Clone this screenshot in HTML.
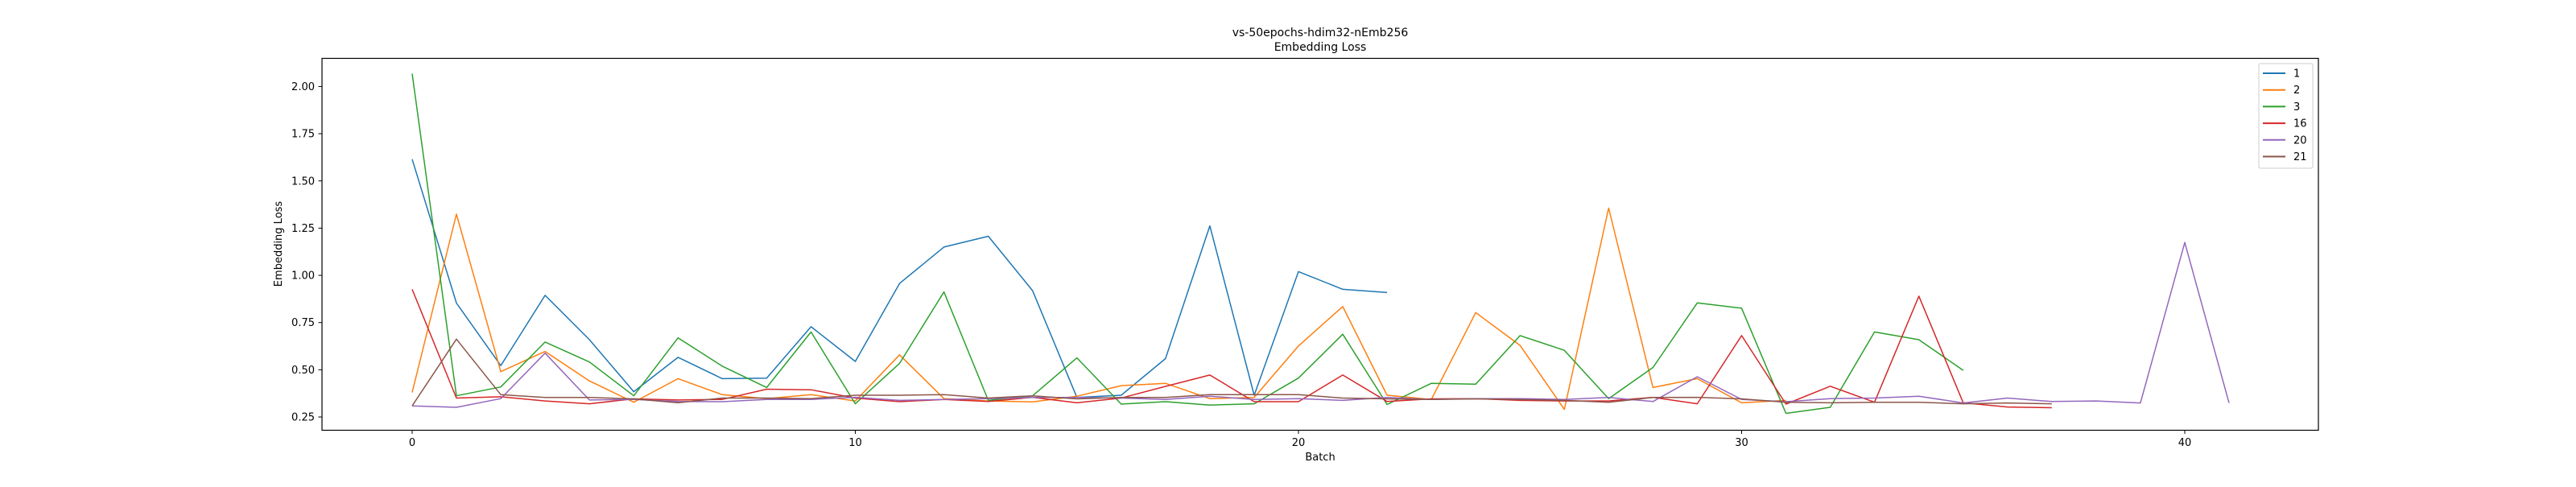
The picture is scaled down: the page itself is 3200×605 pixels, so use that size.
<!DOCTYPE html>
<html><head><meta charset="utf-8"><style>
body{margin:0;background:#fff}
svg text{font-family:"DejaVu Sans","Liberation Sans",sans-serif;fill:#000}
</style></head><body>
<svg id="chart" width="3200" height="600" viewBox="0 0 3200 600" xmlns="http://www.w3.org/2000/svg">
<rect width="3200" height="600" fill="#fff"/>
<text x="1640" y="45" font-size="14" text-anchor="middle">vs-50epochs-hdim32-nEmb256</text>
<text x="1640" y="63" font-size="14" text-anchor="middle">Embedding Loss</text>
<g id="marks"></g>
<rect x="400" y="72.5" width="2480" height="462" fill="none" stroke="#000" stroke-width="1.2"/>
<g id="axes"></g>
<text x="1640" y="572" font-size="13" text-anchor="middle">Batch</text>
<text transform="translate(350,303) rotate(-90)" font-size="13" text-anchor="middle">Embedding Loss</text>
<g id="legend"></g>
</svg>
<script>
const seriesNames = ["1","2","3","16","20","21"];
const seriesColors = ["#1f77b4","#ff7f0e","#2ca02c","#d62728","#9467bd","#8c564b"];
const s1 = [1.615,0.853,0.522,0.894,0.659,0.384,0.566,0.453,0.456,0.728,0.544,0.957,1.15,1.207,0.919,0.353,0.365,0.559,1.262,0.365,1.02,0.926,0.909];
const s2 = [0.38,1.324,0.49,0.597,0.441,0.328,0.453,0.368,0.347,0.368,0.335,0.579,0.347,0.335,0.33,0.36,0.416,0.428,0.347,0.353,0.626,0.835,0.365,0.343,0.803,0.629,0.29,1.356,0.406,0.453,0.325,0.338];
const s3 = [2.068,0.362,0.409,0.647,0.541,0.362,0.669,0.519,0.406,0.7,0.32,0.534,0.912,0.338,0.362,0.563,0.318,0.331,0.313,0.32,0.456,0.688,0.316,0.428,0.424,0.681,0.603,0.347,0.512,0.854,0.826,0.269,0.301,0.7,0.659,0.497];
const s16 = [0.926,0.35,0.357,0.335,0.32,0.346,0.34,0.343,0.397,0.394,0.35,0.331,0.343,0.332,0.354,0.325,0.35,0.412,0.472,0.331,0.331,0.472,0.332,0.346,0.347,0.338,0.335,0.335,0.354,0.32,0.681,0.318,0.413,0.328,0.89,0.325,0.303,0.299];
const s20 = [0.309,0.301,0.347,0.588,0.34,0.343,0.332,0.331,0.343,0.343,0.354,0.338,0.343,0.347,0.353,0.353,0.35,0.343,0.36,0.343,0.347,0.338,0.353,0.343,0.347,0.347,0.343,0.353,0.332,0.463,0.343,0.331,0.347,0.35,0.36,0.324,0.35,0.332,0.335,0.324,1.174,0.324];
const s21 = [0.309,0.662,0.368,0.353,0.353,0.346,0.325,0.35,0.35,0.347,0.365,0.365,0.368,0.35,0.362,0.346,0.353,0.353,0.368,0.368,0.368,0.35,0.346,0.343,0.346,0.343,0.338,0.328,0.353,0.354,0.346,0.328,0.325,0.328,0.328,0.32,0.324,0.32];
const xTicks = [0,10,20,30,40];
const yTicks = [0.25,0.5,0.75,1.0,1.25,1.5,1.75,2.0];
const allSeries = [s1,s2,s3,s16,s20,s21];
const NS="http://www.w3.org/2000/svg";
function xs(v){return 512+v*55.05;}
function ys(v){return 518-(v-0.25)*234.6;}
const marks=document.getElementById('marks');
allSeries.forEach((d,k)=>{
  const p=document.createElementNS(NS,'polyline');
  p.setAttribute('points',d.map((v,i)=>xs(i).toFixed(1)+','+ys(v).toFixed(1)).join(' '));
  p.setAttribute('fill','none');p.setAttribute('stroke',seriesColors[k]);p.setAttribute('stroke-width','1.5');
  p.setAttribute('stroke-linejoin','round');
  
  
  marks.appendChild(p);
});
const axes=document.getElementById('axes');
xTicks.forEach(t=>{
  const l=document.createElementNS(NS,'line');
  l.setAttribute('x1',xs(t));l.setAttribute('x2',xs(t));l.setAttribute('y1',534.5);l.setAttribute('y2',539);l.setAttribute('stroke','#000');
  
  
  axes.appendChild(l);
  const tx=document.createElementNS(NS,'text');
  tx.setAttribute('x',xs(t));tx.setAttribute('y',554);tx.setAttribute('font-size','13');tx.setAttribute('text-anchor','middle');
  tx.textContent=t;
  
  
  axes.appendChild(tx);
});
yTicks.forEach(t=>{
  const l=document.createElementNS(NS,'line');
  l.setAttribute('x1',395.5);l.setAttribute('x2',400);l.setAttribute('y1',ys(t));l.setAttribute('y2',ys(t));l.setAttribute('stroke','#000');
  
  
  axes.appendChild(l);
  const tx=document.createElementNS(NS,'text');
  tx.setAttribute('x',391);tx.setAttribute('y',ys(t)+4.5);tx.setAttribute('font-size','13');tx.setAttribute('text-anchor','end');
  tx.textContent=t.toFixed(2);
  
  
  axes.appendChild(tx);
});
const lg=document.getElementById('legend');
const box=document.createElementNS(NS,'rect');
box.setAttribute('x',2806);box.setAttribute('y',79);box.setAttribute('width',67);box.setAttribute('height',130);box.setAttribute('rx',2);
box.setAttribute('fill','#fff');box.setAttribute('stroke','#ccc');


lg.appendChild(box);
seriesNames.forEach((n,k)=>{
  const y=91+k*20.7;
  const l=document.createElementNS(NS,'line');
  l.setAttribute('x1',2811);l.setAttribute('x2',2839);l.setAttribute('y1',y);l.setAttribute('y2',y);
  l.setAttribute('stroke',seriesColors[k]);l.setAttribute('stroke-width','2');
  
  
  lg.appendChild(l);
  const tx=document.createElementNS(NS,'text');
  tx.setAttribute('x',2849);tx.setAttribute('y',y+4.5);tx.setAttribute('font-size','13');
  tx.textContent=n;
  
  
  lg.appendChild(tx);
});
</script>
</body></html>
